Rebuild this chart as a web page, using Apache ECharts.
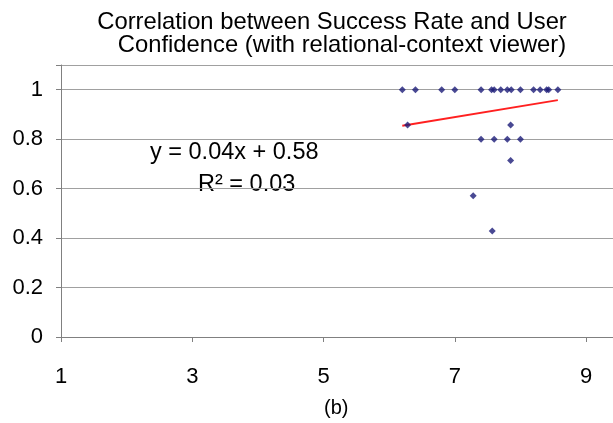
<!DOCTYPE html>
<html><head><meta charset="utf-8">
<script src="https://cdn.jsdelivr.net/npm/echarts@6/dist/echarts.min.js"></script>
<style>html,body{margin:0;padding:0;background:#fff}#c{width:613px;height:423px}</style>
</head><body><div id="c"></div>
<script>
// Success rate (x) vs user confidence (y)
const successRate = [6.2, 6.4, 6.8, 7.0, 7.4, 7.56, 7.6, 7.7, 7.8, 7.86, 8.0, 8.2, 8.3, 8.4, 8.43, 8.57,
                     6.28, 7.85, 7.4, 7.6, 7.8, 8.0, 7.85, 7.28, 7.57];
const confidence  = [1, 1, 1, 1, 1, 1, 1, 1, 1, 1, 1, 1, 1, 1, 1, 1,
                     0.857, 0.857, 0.8, 0.8, 0.8, 0.8, 0.714, 0.571, 0.429];
// linear trend line end points
const trendX = [6.2, 8.57];
const trendY = [0.854, 0.958];
const xTicks = [1, 3, 5, 7, 9];
const titleLines = ['Correlation between Success Rate and User', 'Confidence (with relational-context viewer)'];
const eqLines = ['y = 0.04x + 0.58', 'R² = 0.03'];
const caption = '(b)';

const font = 'Liberation Sans, Arial, sans-serif';
const chart = echarts.init(document.getElementById('c'), null, {renderer: 'canvas'});
chart.setOption({
  animation: false,
  backgroundColor: '#fff',
  title: [
    {text: titleLines[0], left: 327, top: 5, textAlign: 'center',
     textStyle: {fontFamily: font, fontSize: 23.8, fontWeight: 'normal', color: '#000'}},
    {text: titleLines[1], left: 337, top: 28, textAlign: 'center',
     textStyle: {fontFamily: font, fontSize: 23.8, fontWeight: 'normal', color: '#000'}}
  ],
  grid: {left: 61, right: 0, top: 65, bottom: 86, containLabel: false},
  xAxis: {
    type: 'value', min: 1, max: 9.41, interval: 2,
    axisLine: {show: true, lineStyle: {color: '#808080', width: 1}},
    axisTick: {show: true, length: 5, customValues: xTicks, lineStyle: {color: '#808080'}},
    splitLine: {show: false},
    axisLabel: {
      margin: 29, fontFamily: font, fontSize: 22, color: '#000', customValues: xTicks,
      formatter: v => String(v)
    }
  },
  yAxis: {
    type: 'value', min: 0, max: 1.1, interval: 0.2,
    axisLine: {show: true, lineStyle: {color: '#808080', width: 1}},
    axisTick: {show: true, length: 5, lineStyle: {color: '#808080'}},
    splitLine: {show: true, lineStyle: {color: '#a0a0a0', width: 1}},
    axisLabel: {
      margin: 18, fontFamily: font, fontSize: 22, color: '#000',
      formatter: v => (Math.abs(v - 1.1) < 1e-6 ? '' : String(Math.round(v * 10) / 10))
    }
  },
  series: [
    {
      type: 'line', data: trendX.map((x, i) => [x, trendY[i]]),
      symbol: 'none', lineStyle: {color: '#ff2020', width: 2}, z: 2
    },
    {
      type: 'scatter', data: successRate.map((x, i) => [x, confidence[i]]),
      symbol: 'diamond', symbolSize: 7, itemStyle: {color: '#1c1c78'}, z: 3
    }
  ],
  graphic: [
    {type: 'text', left: 150, top: 141, style: {text: eqLines[0], font: '23.5px ' + font, fill: '#000'}},
    {type: 'text', left: 198, top: 173, style: {text: eqLines[1], font: '23.5px ' + font, fill: '#000'}},
    {type: 'text', left: 324, top: 398, style: {text: caption, font: '20px ' + font, fill: '#000'}}
  ]
});
</script></body></html>
